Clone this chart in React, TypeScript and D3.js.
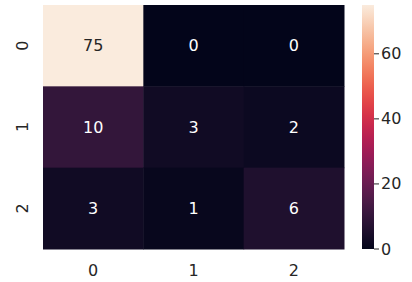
import React from "react";
import * as d3 from "d3";

const rowLabels = ["0", "1", "2"];
const colLabels = ["0", "1", "2"];
const values: number[][] = [
  [75, 0, 0],
  [10, 3, 2],
  [3, 1, 6],
];
const cbTicks = [0, 20, 40, 60];
const rocketStops = ["#03051a", "#35193e", "#701f57", "#ad1759", "#e13342", "#f37651", "#f6b48f", "#faebdd"];

const W = 412, H = 282;
const left = 43, right = 344, top = 5, bottom = 249;
const cbX = 362, cbW = 12;
const font = "DejaVu Sans, sans-serif";
const textColor = "#262626";

export default function App() {
  const x = d3.scaleBand<string>().domain(colLabels).range([left, right]);
  const y = d3.scaleBand<string>().domain(rowLabels).range([top, bottom]);
  const vmax = d3.max(values.flat()) as number;
  const interp = d3.interpolateRgbBasis(rocketStops);
  const color = d3.scaleSequential(interp).domain([0, vmax]);
  const cy = d3.scaleLinear().domain([0, vmax]).range([bottom, top]);
  const gradStops = d3.range(0, 1.0001, 0.05);

  return (
    <svg width={W} height={H} style={{ position: "absolute", left: 0, top: 0 }}>
      <defs>
        <linearGradient id="cb" x1="0" y1="1" x2="0" y2="0">
          {gradStops.map((t) => (
            <stop key={t} offset={t} stopColor={interp(t)} />
          ))}
        </linearGradient>
      </defs>
      <rect width={W} height={H} fill="#fff" />
      {values.map((row, i) =>
        row.map((v, j) => (
          <g key={`${i}-${j}`}>
            <rect
              x={x(colLabels[j])}
              y={y(rowLabels[i])}
              width={x.bandwidth() + 0.5}
              height={y.bandwidth() + 0.5}
              fill={color(v)}
            />
            <text
              x={(x(colLabels[j]) as number) + x.bandwidth() / 2}
              y={(y(rowLabels[i]) as number) + y.bandwidth() / 2}
              textAnchor="middle"
              dominantBaseline="central"
              fontFamily={font}
              fontSize={16}
              fill={v / vmax > 0.5 ? "#262626" : "#ffffff"}
            >
              {v}
            </text>
          </g>
        ))
      )}
      {colLabels.map((c) => (
        <text
          key={c}
          x={(x(c) as number) + x.bandwidth() / 2}
          y={270}
          textAnchor="middle"
          dominantBaseline="central"
          fontFamily={font}
          fontSize={16}
          fill={textColor}
        >
          {c}
        </text>
      ))}
      {rowLabels.map((r) => {
        const cyy = (y(r) as number) + y.bandwidth() / 2;
        return (
          <text
            key={r}
            transform={`translate(22,${cyy}) rotate(-90)`}
            textAnchor="middle"
            dominantBaseline="central"
            fontFamily={font}
            fontSize={16}
            fill={textColor}
          >
            {r}
          </text>
        );
      })}
      <rect x={cbX} y={top} width={cbW} height={bottom - top} fill="url(#cb)" />
      {cbTicks.map((t) => (
        <g key={t}>
          <line x1={cbX + cbW} x2={cbX + cbW + 5} y1={cy(t)} y2={cy(t)} stroke={textColor} strokeWidth={1} />
          <text
            x={cbX + cbW + 7}
            y={cy(t)}
            dominantBaseline="central"
            fontFamily={font}
            fontSize={16}
            fill={textColor}
          >
            {t}
          </text>
        </g>
      ))}
    </svg>
  );
}
